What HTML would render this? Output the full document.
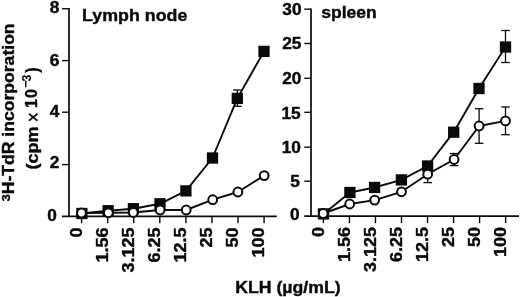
<!DOCTYPE html>
<html lang="en"><head><meta charset="utf-8"><title>KLH proliferation</title>
<style>html,body{margin:0;padding:0;background:#fff}svg{display:block;filter:blur(0.4px)}text{font-family:"Liberation Sans",sans-serif;font-weight:bold;font-size:16px;fill:#0a0a0a;stroke:#0a0a0a;stroke-width:0.4px;stroke-linejoin:round}</style>
</head><body>
<svg width="520" height="297" viewBox="0 0 520 297">
<rect width="520" height="297" fill="#fff"/>
<g stroke="#0a0a0a" fill="none" stroke-linecap="butt">
<line x1="69.00" y1="8.05" x2="69.00" y2="216.40" stroke-width="1.70"/>
<line x1="62.00" y1="216.40" x2="276.80" y2="216.40" stroke-width="1.70"/>
<line x1="62.00" y1="8.75" x2="69.00" y2="8.75" stroke-width="1.40"/>
<line x1="62.00" y1="60.60" x2="69.00" y2="60.60" stroke-width="1.40"/>
<line x1="62.00" y1="112.20" x2="69.00" y2="112.20" stroke-width="1.40"/>
<line x1="62.00" y1="164.60" x2="69.00" y2="164.60" stroke-width="1.40"/>
<line x1="81.60" y1="216.40" x2="81.60" y2="223.20" stroke-width="1.40"/>
<line x1="107.67" y1="216.40" x2="107.67" y2="223.20" stroke-width="1.40"/>
<line x1="133.74" y1="216.40" x2="133.74" y2="223.20" stroke-width="1.40"/>
<line x1="159.81" y1="216.40" x2="159.81" y2="223.20" stroke-width="1.40"/>
<line x1="185.88" y1="216.40" x2="185.88" y2="223.20" stroke-width="1.40"/>
<line x1="211.95" y1="216.40" x2="211.95" y2="223.20" stroke-width="1.40"/>
<line x1="238.02" y1="216.40" x2="238.02" y2="223.20" stroke-width="1.40"/>
<line x1="264.09" y1="216.40" x2="264.09" y2="223.20" stroke-width="1.40"/>
</g>
<g stroke="#0a0a0a" fill="none" stroke-linecap="butt">
<line x1="311.00" y1="8.45" x2="311.00" y2="216.20" stroke-width="1.70"/>
<line x1="304.30" y1="216.20" x2="519.00" y2="216.20" stroke-width="1.70"/>
<line x1="304.30" y1="9.15" x2="311.00" y2="9.15" stroke-width="1.40"/>
<line x1="304.30" y1="43.50" x2="311.00" y2="43.50" stroke-width="1.40"/>
<line x1="304.30" y1="78.30" x2="311.00" y2="78.30" stroke-width="1.40"/>
<line x1="304.30" y1="112.30" x2="311.00" y2="112.30" stroke-width="1.40"/>
<line x1="304.30" y1="147.20" x2="311.00" y2="147.20" stroke-width="1.40"/>
<line x1="304.30" y1="181.20" x2="311.00" y2="181.20" stroke-width="1.40"/>
<line x1="323.40" y1="216.20" x2="323.40" y2="223.20" stroke-width="1.40"/>
<line x1="349.43" y1="216.20" x2="349.43" y2="223.20" stroke-width="1.40"/>
<line x1="375.46" y1="216.20" x2="375.46" y2="223.20" stroke-width="1.40"/>
<line x1="401.49" y1="216.20" x2="401.49" y2="223.20" stroke-width="1.40"/>
<line x1="427.52" y1="216.20" x2="427.52" y2="223.20" stroke-width="1.40"/>
<line x1="453.55" y1="216.20" x2="453.55" y2="223.20" stroke-width="1.40"/>
<line x1="479.58" y1="216.20" x2="479.58" y2="223.20" stroke-width="1.40"/>
<line x1="505.61" y1="216.20" x2="505.61" y2="223.20" stroke-width="1.40"/>
</g>
<polyline fill="none" stroke="#0a0a0a" stroke-width="1.90" stroke-linejoin="round" points="81.9,213.5 108.1,210.7 133.4,208.7 160.0,203.8 185.9,190.9 212.5,158.0 237.3,98.4 264.0,51.4"/>
<polyline fill="none" stroke="#0a0a0a" stroke-width="1.90" stroke-linejoin="round" points="81.5,213.0 108.4,212.8 133.3,212.5 160.1,210.0 186.2,210.0 212.7,199.7 237.9,192.0 264.2,175.6"/>
<polyline fill="none" stroke="#0a0a0a" stroke-width="1.90" stroke-linejoin="round" points="323.5,213.9 349.9,192.5 374.6,187.5 401.4,179.9 427.6,166.0 453.7,132.2 479.0,88.5 505.5,47.0"/>
<polyline fill="none" stroke="#0a0a0a" stroke-width="1.90" stroke-linejoin="round" points="323.2,213.5 349.7,204.0 374.7,200.1 401.5,191.8 427.7,174.2 454.1,159.5 479.1,126.0 505.5,120.9"/>
<g stroke="#0a0a0a" stroke-width="1.30">
<line x1="237.4" y1="90.0" x2="237.4" y2="106.3"/>
<line x1="233.1" y1="90.0" x2="241.7" y2="90.0"/>
<line x1="233.1" y1="106.3" x2="241.7" y2="106.3"/>
<line x1="505.5" y1="30.5" x2="505.5" y2="62.5"/>
<line x1="501.2" y1="30.5" x2="509.8" y2="30.5"/>
<line x1="501.2" y1="62.5" x2="509.8" y2="62.5"/>
<line x1="427.7" y1="166.0" x2="427.7" y2="182.6"/>
<line x1="423.4" y1="166.0" x2="432.0" y2="166.0"/>
<line x1="423.4" y1="182.6" x2="432.0" y2="182.6"/>
<line x1="454.1" y1="153.5" x2="454.1" y2="165.6"/>
<line x1="449.8" y1="153.5" x2="458.4" y2="153.5"/>
<line x1="449.8" y1="165.6" x2="458.4" y2="165.6"/>
<line x1="479.1" y1="108.7" x2="479.1" y2="143.3"/>
<line x1="474.8" y1="108.7" x2="483.4" y2="108.7"/>
<line x1="474.8" y1="143.3" x2="483.4" y2="143.3"/>
<line x1="505.5" y1="107.0" x2="505.5" y2="134.7"/>
<line x1="501.2" y1="107.0" x2="509.8" y2="107.0"/>
<line x1="501.2" y1="134.7" x2="509.8" y2="134.7"/>
</g>
<rect x="76.25" y="207.85" width="11.30" height="11.30" fill="#0a0a0a"/>
<rect x="102.45" y="205.05" width="11.30" height="11.30" fill="#0a0a0a"/>
<rect x="127.75" y="203.05" width="11.30" height="11.30" fill="#0a0a0a"/>
<rect x="154.35" y="198.15" width="11.30" height="11.30" fill="#0a0a0a"/>
<rect x="180.25" y="185.25" width="11.30" height="11.30" fill="#0a0a0a"/>
<rect x="206.85" y="152.35" width="11.30" height="11.30" fill="#0a0a0a"/>
<rect x="231.65" y="92.75" width="11.30" height="11.30" fill="#0a0a0a"/>
<rect x="258.35" y="45.75" width="11.30" height="11.30" fill="#0a0a0a"/>
<circle cx="81.50" cy="213.00" r="4.40" fill="#fff" stroke="#0a0a0a" stroke-width="2.00"/>
<circle cx="108.40" cy="212.80" r="4.40" fill="#fff" stroke="#0a0a0a" stroke-width="2.00"/>
<circle cx="133.30" cy="212.50" r="4.40" fill="#fff" stroke="#0a0a0a" stroke-width="2.00"/>
<circle cx="160.10" cy="210.00" r="4.40" fill="#fff" stroke="#0a0a0a" stroke-width="2.00"/>
<circle cx="186.20" cy="210.00" r="4.40" fill="#fff" stroke="#0a0a0a" stroke-width="2.00"/>
<circle cx="212.70" cy="199.70" r="4.40" fill="#fff" stroke="#0a0a0a" stroke-width="2.00"/>
<circle cx="237.90" cy="192.00" r="4.40" fill="#fff" stroke="#0a0a0a" stroke-width="2.00"/>
<circle cx="264.20" cy="175.60" r="4.40" fill="#fff" stroke="#0a0a0a" stroke-width="2.00"/>
<rect x="317.85" y="208.25" width="11.30" height="11.30" fill="#0a0a0a"/>
<rect x="344.25" y="186.85" width="11.30" height="11.30" fill="#0a0a0a"/>
<rect x="368.95" y="181.85" width="11.30" height="11.30" fill="#0a0a0a"/>
<rect x="395.75" y="174.25" width="11.30" height="11.30" fill="#0a0a0a"/>
<rect x="421.95" y="160.35" width="11.30" height="11.30" fill="#0a0a0a"/>
<rect x="448.05" y="126.55" width="11.30" height="11.30" fill="#0a0a0a"/>
<rect x="473.35" y="82.85" width="11.30" height="11.30" fill="#0a0a0a"/>
<rect x="499.85" y="41.35" width="11.30" height="11.30" fill="#0a0a0a"/>
<circle cx="323.20" cy="213.50" r="4.40" fill="#fff" stroke="#0a0a0a" stroke-width="2.00"/>
<circle cx="349.70" cy="204.00" r="4.40" fill="#fff" stroke="#0a0a0a" stroke-width="2.00"/>
<circle cx="374.70" cy="200.10" r="4.40" fill="#fff" stroke="#0a0a0a" stroke-width="2.00"/>
<circle cx="401.50" cy="191.80" r="4.40" fill="#fff" stroke="#0a0a0a" stroke-width="2.00"/>
<circle cx="427.70" cy="174.20" r="4.40" fill="#fff" stroke="#0a0a0a" stroke-width="2.00"/>
<circle cx="454.10" cy="159.50" r="4.40" fill="#fff" stroke="#0a0a0a" stroke-width="2.00"/>
<circle cx="479.10" cy="126.00" r="4.40" fill="#fff" stroke="#0a0a0a" stroke-width="2.00"/>
<circle cx="505.50" cy="120.90" r="4.40" fill="#fff" stroke="#0a0a0a" stroke-width="2.00"/>
<text transform="translate(59.40,12.90) scale(1.080,1)" text-anchor="end">8</text>
<text transform="translate(59.40,65.50) scale(1.080,1)" text-anchor="end">6</text>
<text transform="translate(59.40,117.00) scale(1.080,1)" text-anchor="end">4</text>
<text transform="translate(59.40,168.30) scale(1.080,1)" text-anchor="end">2</text>
<text transform="translate(56.80,220.80) scale(1.080,1)" text-anchor="end">0</text>
<text transform="translate(301.50,15.00) scale(1.080,1)" text-anchor="end">30</text>
<text transform="translate(301.40,48.80) scale(1.080,1)" text-anchor="end">25</text>
<text transform="translate(301.40,83.90) scale(1.080,1)" text-anchor="end">20</text>
<text transform="translate(300.60,118.90) scale(1.080,1)" text-anchor="end">15</text>
<text transform="translate(300.90,152.90) scale(1.080,1)" text-anchor="end">10</text>
<text transform="translate(299.80,186.90) scale(1.080,1)" text-anchor="end">5</text>
<text transform="translate(299.50,220.20) scale(1.080,1)" text-anchor="end">0</text>
<text transform="translate(81.80,227.60) rotate(-90) scale(1.125,1)" text-anchor="end">0</text>
<text transform="translate(323.60,226.90) rotate(-90) scale(1.125,1)" text-anchor="end">0</text>
<text transform="translate(107.87,227.60) rotate(-90) scale(1.125,1)" text-anchor="end">1.56</text>
<text transform="translate(349.63,226.90) rotate(-90) scale(1.125,1)" text-anchor="end">1.56</text>
<text transform="translate(133.94,227.60) rotate(-90) scale(1.125,1)" text-anchor="end">3.125</text>
<text transform="translate(375.66,226.90) rotate(-90) scale(1.125,1)" text-anchor="end">3.125</text>
<text transform="translate(160.01,227.60) rotate(-90) scale(1.125,1)" text-anchor="end">6.25</text>
<text transform="translate(401.69,226.90) rotate(-90) scale(1.125,1)" text-anchor="end">6.25</text>
<text transform="translate(186.08,227.60) rotate(-90) scale(1.125,1)" text-anchor="end">12.5</text>
<text transform="translate(427.72,226.90) rotate(-90) scale(1.125,1)" text-anchor="end">12.5</text>
<text transform="translate(212.15,227.60) rotate(-90) scale(1.125,1)" text-anchor="end">25</text>
<text transform="translate(453.75,226.90) rotate(-90) scale(1.125,1)" text-anchor="end">25</text>
<text transform="translate(238.22,227.60) rotate(-90) scale(1.125,1)" text-anchor="end">50</text>
<text transform="translate(479.78,226.90) rotate(-90) scale(1.125,1)" text-anchor="end">50</text>
<text transform="translate(264.29,227.60) rotate(-90) scale(1.125,1)" text-anchor="end">100</text>
<text transform="translate(505.81,226.90) rotate(-90) scale(1.125,1)" text-anchor="end">100</text>
<text transform="translate(82.00,20.50) scale(1.115,1)" text-anchor="start">Lymph node</text>
<text transform="translate(321.20,17.70) scale(1.095,1)" text-anchor="start">spleen</text>
<text transform="translate(235.20,292.70) scale(1.105,1)" text-anchor="start">KLH (µg/mL)</text>
<text transform="translate(13.80,201.30) rotate(-90) scale(1.100,1)" text-anchor="start"><tspan font-size="11.5" dy="-3.4">3</tspan><tspan dy="3.4">H-TdR incorporation</tspan></text>
<text transform="translate(37.50,169.40) rotate(-90) scale(1.122,1)" text-anchor="start">(cpm</text>
<text transform="translate(40.40,117.20) rotate(-90) scale(0.88,1)" text-anchor="middle" style="font-size:19.5px;font-weight:normal;stroke-width:0.5px">×</text>
<text transform="translate(37.40,103.50) rotate(-90) scale(1.000,1)" text-anchor="middle">1</text>
<text transform="translate(37.40,93.65) rotate(-90) scale(1.000,1)" text-anchor="middle">0</text>
<text transform="translate(29.70,84.20) rotate(-90)" text-anchor="middle" style="font-size:12.5px;stroke-width:0.15px">−</text>
<text transform="translate(30.50,78.00) rotate(-90)" text-anchor="middle" style="font-size:12.5px;stroke-width:0.1px">3</text>
<text transform="translate(38.10,70.10) rotate(-90)" text-anchor="middle" style="font-size:17.5px;stroke-width:0.1px">)</text>
</svg>
</body></html>
